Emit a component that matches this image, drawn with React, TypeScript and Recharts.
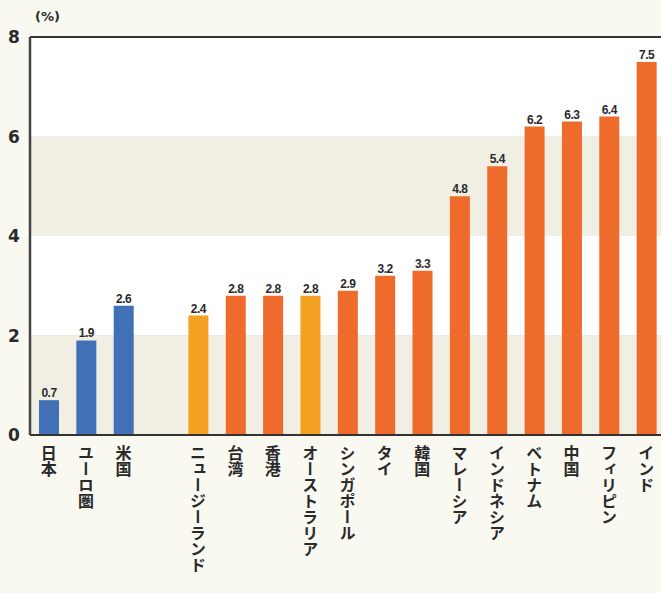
import React from "react";
import {
  BarChart,
  Bar,
  XAxis,
  YAxis,
  CartesianGrid,
  ReferenceArea,
  ReferenceLine,
  Cell,
  LabelList,
} from "recharts";

const categories = [
  "日本",
  "ユーロ圏",
  "米国",
  "",
  "ニュージーランド",
  "台湾",
  "香港",
  "オーストラリア",
  "シンガポール",
  "タイ",
  "韓国",
  "マレーシア",
  "インドネシア",
  "ベトナム",
  "中国",
  "フィリピン",
  "インド",
];
const values = [0.7, 1.9, 2.6, null, 2.4, 2.8, 2.8, 2.8, 2.9, 3.2, 3.3, 4.8, 5.4, 6.2, 6.3, 6.4, 7.5];
const groups = ["a", "a", "a", "", "b", "c", "c", "b", "c", "c", "c", "c", "c", "c", "c", "c", "c"];
const yTicks = [0, 2, 4, 6, 8];

const colors: Record<string, string> = {
  a: "#4270b6",
  b: "#f4a020",
  c: "#ee6b2c",
};

const data = categories.map((name, i) => ({
  key: name || `gap-${i}`,
  name,
  value: values[i],
  group: groups[i],
}));

const CJK = '"Noto Sans CJK JP", "Noto Sans", sans-serif';

const XTick = (props: any) => {
  const { x, y, payload } = props;
  const label = data.find((d) => d.key === payload.value)?.name || "";
  if (!label) return null;
  return (
    <text
      x={x}
      y={y + 2}
      fill="#2a2a2a"
      fontSize={16}
      fontWeight={700}
      fontFamily={CJK}
      style={{ writingMode: "vertical-rl", textOrientation: "upright" } as any}
    >
      {label}
    </text>
  );
};

const YTick = (props: any) => {
  const { y, payload } = props;
  return (
    <text
      x={14}
      y={y + 6}
      textAnchor="middle"
      fill="#2a2a2a"
      fontSize={17}
      fontWeight={700}
      fontFamily="DejaVu Sans, sans-serif"
    >
      {payload.value}
    </text>
  );
};

const ValueLabel = (props: any) => {
  const { x = 0, y = 0, width = 0, value } = props;
  if (value == null) return null;
  return (
    <text
      x={Number(x) + Number(width) / 2}
      y={Number(y) - 3}
      textAnchor="middle"
      fill="#2a2a2a"
      fontSize={12}
      fontWeight={700}
      fontFamily="Liberation Sans Narrow, Liberation Sans, sans-serif"
      letterSpacing={-0.5}
    >
      {Number(value).toFixed(1)}
    </text>
  );
};

export default function App() {
  return (
    <div
      style={{
        position: "absolute",
        left: 0,
        top: 0,
        width: 661,
        height: 593,
        overflow: "hidden",
        background: "#f9f8f1",
      }}
    >
      <BarChart
        width={665}
        height={593}
        data={data}
        margin={{ top: 37, right: 0, left: 0, bottom: 0 }}
        barCategoryGap={0}
      >
        <ReferenceArea y1={0} y2={2} fill="#f1efe4" fillOpacity={1} stroke="none" />
        <ReferenceArea y1={2} y2={4} fill="#ffffff" fillOpacity={1} stroke="none" />
        <ReferenceArea y1={4} y2={6} fill="#f1efe4" fillOpacity={1} stroke="none" />
        <ReferenceArea y1={6} y2={8} fill="#ffffff" fillOpacity={1} stroke="none" />
        <CartesianGrid vertical={false} stroke="#bdbdb8" strokeWidth={1.2} />
        <XAxis
          dataKey="key"
          interval={0}
          tickLine={false}
          axisLine={{ stroke: "#333", strokeWidth: 2 }}
          height={158}
          tick={<XTick />}
        />
        <YAxis
          domain={[0, 8]}
          ticks={yTicks}
          width={30}
          tickLine={false}
          axisLine={{ stroke: "#444", strokeWidth: 2.5 }}
          tick={<YTick />}
        />
        <ReferenceLine y={8} stroke="#333" strokeWidth={2} />
        <Bar dataKey="value" barSize={20} isAnimationActive={false}>
          {data.map((d, i) => (
            <Cell key={`cell-${i}`} fill={colors[d.group] || "none"} />
          ))}
          <LabelList dataKey="value" content={ValueLabel as any} />
        </Bar>
      </BarChart>
      <div
        style={{
          position: "absolute",
          left: 35,
          top: 9,
          fontSize: 13,
          fontWeight: 700,
          fontFamily: "DejaVu Sans, sans-serif",
          color: "#2a2a2a",
        }}
      >
        (%)
      </div>
    </div>
  );
}
